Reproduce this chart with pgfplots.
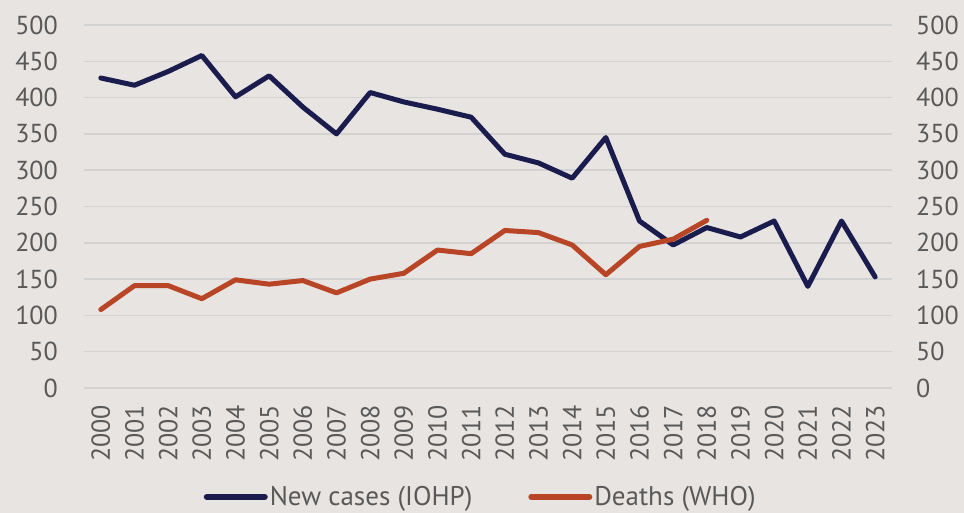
\documentclass[border=0pt]{standalone}
\usepackage{pgfplots}
\pgfplotsset{compat=1.18}
\usepackage{fontspec}
\setmainfont{PT Sans}
\definecolor{bg}{HTML}{E8E4E2}
\definecolor{gridc}{HTML}{D2D2D2}
\definecolor{txt}{HTML}{595959}
\definecolor{navy}{HTML}{1A1C4E}
\definecolor{rust}{HTML}{B84526}
\pgfplotstableread{
x y
0 427
1 417
2 436
3 458
4 401
5 430
6 387
7 350
8 407
9 394
10 384
11 373
12 322
13 310
14 289
15 345
16 230
17 197
18 221
19 208
20 230
21 140
22 230
23 153
}\cases
\pgfplotstableread{
x y
0 108
1 141
2 141
3 123
4 149
5 143
6 148
7 131
8 150
9 158
10 190
11 185
12 217
13 214
14 197
15 156
16 195
17 205
18 231
}\deaths
\newcommand{\lblfont}{\fontsize{26}{30}\selectfont}
\newcommand{\legfont}{\fontsize{27}{30}\selectfont}
\begin{document}
\begin{tikzpicture}
\fill[bg] (-84pt,-125pt) rectangle (880pt,388pt);
\begin{axis}[
  at={(0pt,0pt)}, anchor=south west,
  scale only axis, width=808pt, height=363pt,
  xmin=-0.5, xmax=23.5, ymin=0, ymax=500,
  xtick={0,...,23},
  xticklabels={2000,2001,2002,2003,2004,2005,2006,2007,2008,2009,2010,2011,2012,2013,2014,2015,2016,2017,2018,2019,2020,2021,2022,2023},
  ytick={0,50,...,500},
  axis line style={draw=none},
  major tick length=0pt,
  ymajorgrids, grid style={gridc, line width=1.5pt},
  /pgf/number format/assume math mode=true,
  tick label style={font=\lblfont, text=txt},
  yticklabel style={anchor=east, inner sep=0pt, xshift=-26pt},
  xticklabel style={yshift=-17pt, rotate=90, anchor=east, inner sep=0pt},
  legend columns=2,
  legend style={at={(0.491,-0.300)}, anchor=center, draw=none, fill=none,
    font=\legfont, text=txt, inner sep=0pt,
    nodes={inner xsep=2pt, inner ysep=0pt},
    /tikz/every even column/.append style={column sep=54pt}},
  legend image code/.code={\draw[#1, line width=6pt, line cap=round] (0pt,0pt) -- (58pt,0pt);},
]
\addplot[navy, line width=5pt, line join=round, line cap=round] table[x=x,y=y] {\cases};
\addlegendentry{New cases (IOHP)}
\addplot[rust, line width=5pt, line join=round, line cap=round] table[x=x,y=y] {\deaths};
\addlegendentry{Deaths (WHO)}
\end{axis}
\begin{axis}[
  at={(0pt,0pt)}, anchor=south west,
  scale only axis, width=808pt, height=363pt,
  xmin=-0.5, xmax=23.5, ymin=0, ymax=500,
  hide x axis,
  axis y line*=right,
  axis line style={draw=none},
  major tick length=0pt,
  ytick={0,50,...,500},
  /pgf/number format/assume math mode=true,
  tick label style={font=\lblfont, text=txt},
  yticklabel style={anchor=west, inner sep=0pt, xshift=24pt},
]
\addplot[draw=none] coordinates {(0,0)};
\end{axis}
\end{tikzpicture}
\end{document}
